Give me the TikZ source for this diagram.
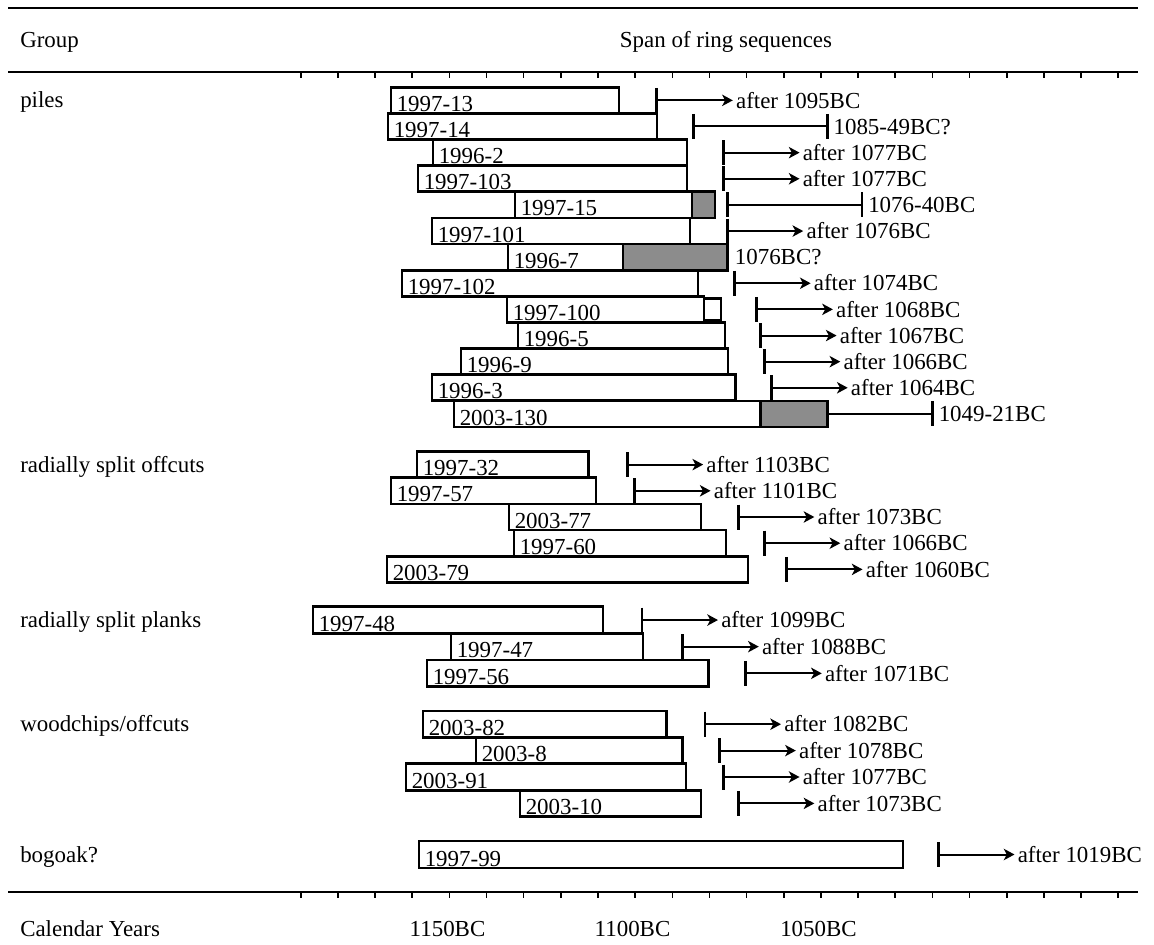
\documentclass[tikz,border=0pt]{standalone}
\usepackage{fontspec}
\setmainfont{Liberation Serif}
\usetikzlibrary{arrows.meta,calc}
\newcommand{\dendrofont}{\fontsize{17.2pt}{20pt}\selectfont}
\begin{document}
\begin{tikzpicture}[x=0.75pt,y=-0.75pt,
  barbox/.style={draw=black, line width=2pt, fill=white, inner sep=0pt, outer sep=0pt, anchor=north west, rectangle},
  greybox/.style={draw=black, line width=2pt, fill={rgb,255:red,140;green,140;blue,140}, inner sep=0pt, outer sep=0pt, anchor=north west, rectangle},
  barlab/.style={font=\dendrofont, inner sep=0pt, anchor=base west},
  arrline/.style={line width=1.5pt, -{Stealth[length=8pt,width=8.5pt,inset=2.2pt]}},
  rangeline/.style={line width=1.5pt},
  stick/.style={line width=2.2pt},
  arrlab/.style={font=\dendrofont, inner sep=0pt, anchor=base west},
  grouplab/.style={font=\dendrofont, inner sep=0pt, anchor=base west},
  axlab/.style={font=\dendrofont, inner sep=0pt, anchor=base},
  rulethick/.style={line width=2.2pt},
  rule/.style={line width=1.6pt},
  tickmark/.style={line width=1.2pt}
]
\useasboundingbox[fill=white] (0,0) rectangle (1154,945);

% header and axis rules
\draw[rulethick] (8,8) -- (1138,8);
\draw[rule] (8,72) -- (1138,72);
\draw[rule] (8,892) -- (1138,892);
\foreach \k in {0,...,22}{
  \draw[tickmark] (300.7+37.16*\k,72) -- ++(0,6);
  \draw[tickmark] (300.7+37.16*\k,892) -- ++(0,6);
}
\node[grouplab] (hgroup) at (20,48) {Group};
\node[axlab] (hspan) at (726,48) {Span of ring sequences};
\node[grouplab] (hcal) at (20,936) {Calendar Years};
\node[axlab] (a1150) at (447.5,936) {1150BC};
\node[axlab] (a1100) at (632.5,936) {1100BC};
\node[axlab] (a1050) at (818.5,936) {1050BC};

% group labels
\node[grouplab] (gpiles) at (20,108) {piles};
\node[grouplab] (goff) at (20,472) {radially split offcuts};
\node[grouplab] (gplank) at (20,627.5) {radially split planks};
\node[grouplab] (gchip) at (20,731.7) {woodchips/offcuts};
\node[grouplab] (gbog) at (20,862) {bogoak?};

% bars
\foreach \id/\lab/\L/\R/\T/\H in {
  p1/1997-13/391/619/87.3/26.13,
  p2/1997-14/388/657/113.4/26.13,
  p3/1996-2/433/687/139.6/26.13,
  p4/1997-103/418/687/165.7/26.13,
  p5/1997-15/515/692/191.8/26.13,
  p6/1997-101/432/690/218.0/26.13,
  p7/1996-7/508/623/244.1/26.13,
  p8/1997-102/402/698/270.2/26.13,
  p9/1997-100/507/704/296.3/26.13,
  p10/1996-5/518/725/322.5/26.13,
  p11/1996-9/461/728/348.6/26.13,
  p12/1996-3/432/735.5/374.7/26.13,
  p13/2003-130/454/760.4/400.9/26.13,
  o1/1997-32/417/588.3/451.5/26.2,
  o2/1997-57/391/596/477.7/26.2,
  o3/2003-77/509/701/503.9/26.2,
  o4/1997-60/514/726/530.1/26.2,
  o5/2003-79/387/748/556.3/26.2,
  k1/1997-48/313/603/606.7/26.67,
  k2/1997-47/451/643/633.3/26.67,
  k3/1997-56/427/708.5/660.0/26.67,
  w1/2003-82/423/666.5/711.0/26.4,
  w2/2003-8/476/682.5/737.4/26.4,
  w3/2003-91/406/686/763.8/26.4,
  w4/2003-10/520/701/790.2/26.4,
  b1/1997-99/419/903/841/27}{
  \pgfmathsetmacro\W{(\R-\L)*0.75}
  \pgfmathsetmacro\HH{\H*0.75}
  \node[barbox, minimum width=\W pt, minimum height=\HH pt] (\id) at (\L,\T) {};
  \node[barlab] (\id-t) at (\L+5.5,\T+\H-2) {\lab};
}

% grey (sapwood) segments and small end box
\node[greybox, minimum width={(715-692)*0.75pt}, minimum height={26.13*0.75pt}] (p5-g) at (692,191.8) {};
\node[greybox, minimum width={(727.6-623)*0.75pt}, minimum height={26.13*0.75pt}] (p7-g) at (623,244.1) {};
\node[greybox, minimum width={(827.3-760.4)*0.75pt}, minimum height={26.13*0.75pt}] (p13-g) at (760.4,400.9) {};
\node[barbox, minimum width={(721-704)*0.75pt}, minimum height={22*0.75pt}] (p9-x) at (704,298.4) {};

% "after" arrows
\foreach \id/\yr in {p1/1095,p3/1077,p4/1077,p6/1076,p8/1074,p9/1068,p10/1067,p11/1066,p12/1064,
  o1/1103,o2/1101,o3/1073,o4/1066,o5/1060,k1/1099,k2/1088,k3/1071,
  w1/1082,w2/1078,w3/1077,w4/1073,b1/1019}{
  \pgfmathsetmacro\xs{453+(1150-\yr)*3.706}
  \coordinate (\id-s) at (\xs,0 |- \id.center);
  \coordinate (\id-e) at ($(\id-s)+(76,0)$);
  \draw[arrline] (\id-s) -- (\id-e);
  \draw[stick] ($(\id-s)+(0,-12.5)$) -- ($(\id-s)+(0,12.5)$);
  \node[arrlab] (\id-l) at ($(\id-e)+(3,7.7)$) {after \yr BC};
}

% ranges
\coordinate (p2-s) at (693.9,0 |- p2.center);
\coordinate (p2-e) at (827.3,0 |- p2.center);
\draw[rangeline] (p2-s) -- (p2-e);
\draw[stick] ($(p2-s)+(0,-12.5)$) -- ($(p2-s)+(0,12.5)$);
\draw[stick] ($(p2-e)+(0,-12.5)$) -- ($(p2-e)+(0,12.5)$);
\node[arrlab] (p2-l) at ($(p2-e)+(6,7.7)$) {1085-49BC?};

\coordinate (p5-s) at (727.2,0 |- p5.center);
\coordinate (p5-e) at (862,0 |- p5.center);
\draw[rangeline] (p5-s) -- (p5-e);
\draw[stick] ($(p5-s)+(0,-12.5)$) -- ($(p5-s)+(0,12.5)$);
\draw[stick] ($(p5-e)+(0,-12.5)$) -- ($(p5-e)+(0,12.5)$);
\node[arrlab] (p5-l) at ($(p5-e)+(6,7.7)$) {1076-40BC};

\coordinate (p13-e) at (932.5,0 |- p13.center);
\draw[rangeline] (p13-g.east) -- (p13-e);
\draw[stick] ($(p13-e)+(0,-12.5)$) -- ($(p13-e)+(0,12.5)$);
\node[arrlab] (p13-l) at ($(p13-e)+(6,7.7)$) {1049-21BC};

\node[arrlab] (p7-l) at ($(p7-g.east)+(7,7.7)$) {1076BC?};
\end{tikzpicture}
\end{document}
